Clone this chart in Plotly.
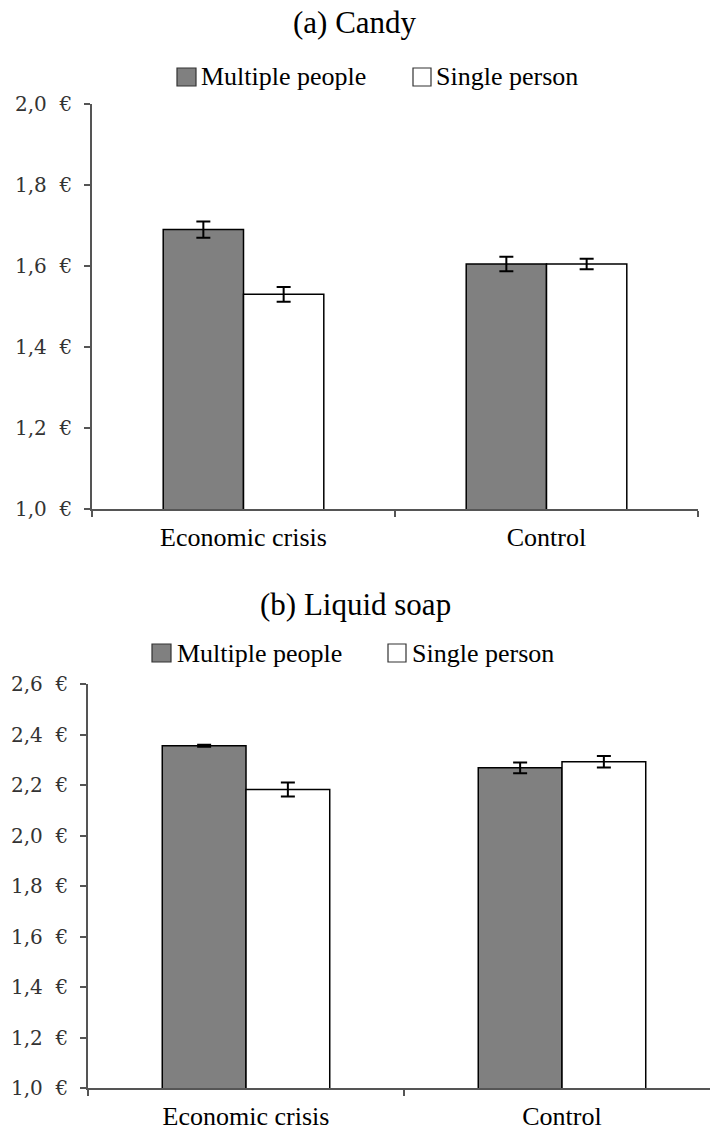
import plotly.graph_objects as go

# ---- data -------------------------------------------------------------
conditions = ["Economic crisis", "Control"]
series_names = ["Multiple people", "Single person"]

candy_multiple = [1.69, 1.605]
candy_single = [1.53, 1.605]
candy_multiple_err = [0.02, 0.018]
candy_single_err = [0.018, 0.013]

soap_multiple = [2.355, 2.268]
soap_single = [2.182, 2.292]
soap_multiple_err = [0.004, 0.021]
soap_single_err = [0.028, 0.023]

candy_tickvals = [1.0, 1.2, 1.4, 1.6, 1.8, 2.0]
candy_ticktext = ["1,0\u00a0\u00a0€", "1,2\u00a0\u00a0€", "1,4\u00a0\u00a0€",
                  "1,6\u00a0\u00a0€", "1,8\u00a0\u00a0€", "2,0\u00a0\u00a0€"]
soap_tickvals = [1.0, 1.2, 1.4, 1.6, 1.8, 2.0, 2.2, 2.4, 2.6]
soap_ticktext = ["1,0\u00a0\u00a0€", "1,2\u00a0\u00a0€", "1,4\u00a0\u00a0€",
                 "1,6\u00a0\u00a0€", "1,8\u00a0\u00a0€", "2,0\u00a0\u00a0€",
                 "2,2\u00a0\u00a0€", "2,4\u00a0\u00a0€", "2,6\u00a0\u00a0€"]

panel_titles = ["(a) Candy", "(b) Liquid soap"]

# ---- styling ----------------------------------------------------------
W, H = 710, 1130
SERIF = "Liberation Serif, DejaVu Serif, serif"
TICK_FONT = "DejaVu Serif, serif"
FILLS = ["#808080", "#ffffff"]
AXIS_COLOR = "#555555"


def px(x):
    return x / W


def py(y):
    return 1 - y / H


fig = go.Figure()

panels = [
    (candy_multiple, candy_single, candy_multiple_err, candy_single_err, "x", "y"),
    (soap_multiple, soap_single, soap_multiple_err, soap_single_err, "x2", "y2"),
]
for mult, single, mult_err, single_err, xa, ya in panels:
    for name, vals, errs, fill in [
        (series_names[0], mult, mult_err, FILLS[0]),
        (series_names[1], single, single_err, FILLS[1]),
    ]:
        fig.add_trace(go.Bar(
            x=conditions, y=vals, name=name, xaxis=xa, yaxis=ya,
            marker=dict(color=fill, line=dict(color="black", width=1.5)),
            error_y=dict(type="data", array=errs, color="black",
                         thickness=2, width=7),
            showlegend=False,
        ))


def yaxis_style(rng, tickvals, ticktext, domain, anchor):
    return dict(
        range=rng, domain=domain, anchor=anchor, automargin=False,
        showline=True, linecolor=AXIS_COLOR, linewidth=1.5,
        ticks="outside", ticklen=6, tickwidth=1.5, tickcolor=AXIS_COLOR,
        tickvals=tickvals, ticktext=ticktext,
        tickfont=dict(family=TICK_FONT, size=20, color="#333333"),
        showgrid=False, zeroline=False, ticklabelstandoff=8,
    )


def xaxis_style(rng, domain, anchor):
    return dict(
        type="category", range=rng, domain=domain, anchor=anchor,
        automargin=False, showline=True, linecolor=AXIS_COLOR, linewidth=1.5,
        ticks="outside", tickson="boundaries", ticklen=6, tickwidth=1.5,
        tickcolor=AXIS_COLOR, showgrid=False, zeroline=False,
        ticklabelstandoff=4,
        tickfont=dict(family=SERIF, size=26, color="black"),
    )


fig.update_layout(
    width=W, height=H,
    margin=dict(l=0, r=0, t=0, b=0, autoexpand=False),
    paper_bgcolor="white", plot_bgcolor="white",
    font=dict(family=SERIF),
    barmode="group", bargap=0.47, bargroupgap=0,
    xaxis=xaxis_style([-0.5, 1.5], [px(92), px(698)], "y"),
    yaxis=yaxis_style([1.0, 2.0], candy_tickvals, candy_ticktext,
                      [py(509), py(104)], "x"),
    xaxis2=xaxis_style([-0.5, -0.5 + 622 / 316], [px(88), 1.0], "y2"),
    yaxis2=yaxis_style([1.0, 2.6], soap_tickvals, soap_ticktext,
                       [py(1088), py(684)], "x2"),
)

# panel titles
for title, ty in zip(panel_titles, [23, 604]):
    fig.add_annotation(text=title, x=0.5, y=py(ty), xref="paper", yref="paper",
                       xanchor="center", yanchor="middle", showarrow=False,
                       font=dict(family=SERIF, size=31, color="black"))

# legends: swatch + label for each series, one row per panel
legend_rows = [
    (77, [(177, 196, 199), (413, 431, 434)]),
    (653, [(152, 171, 175), (388, 406, 410)]),
]
for cy, items in legend_rows:
    for (x0, x1, tx), name, fill in zip(items, series_names, FILLS):
        fig.add_shape(type="rect", xref="paper", yref="paper",
                      x0=px(x0), x1=px(x1), y0=py(cy + 9), y1=py(cy - 9),
                      fillcolor=fill, line=dict(color="#333333", width=1.2))
        fig.add_annotation(text=name, x=px(tx), y=py(cy), xref="paper",
                           yref="paper", xanchor="left", yanchor="middle",
                           showarrow=False,
                           font=dict(family=SERIF, size=26, color="black"))

fig.write_html("out.html")
